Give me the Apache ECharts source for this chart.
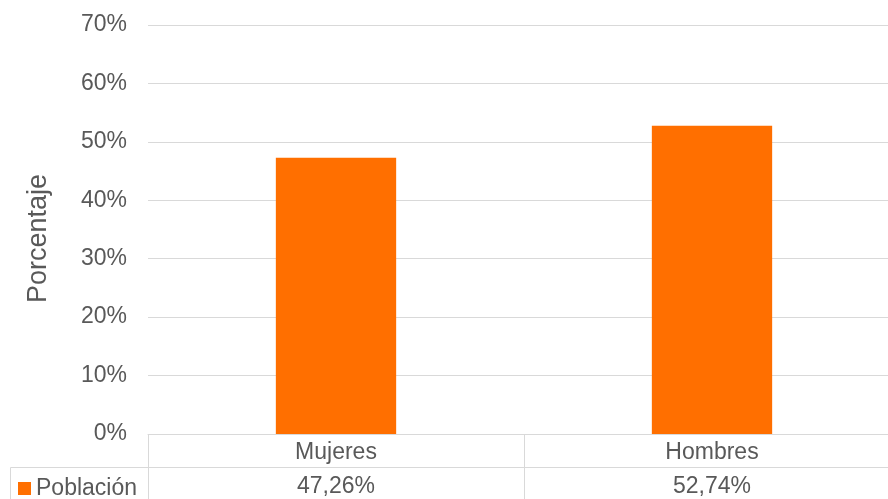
<!DOCTYPE html>
<html>
<head>
<meta charset="utf-8">
<script src="https://cdn.jsdelivr.net/npm/echarts@6/dist/echarts.min.js"></script>
<style>
html,body{margin:0;padding:0;background:#fff;overflow:hidden;}
#wrap{width:888px;height:499px;overflow:hidden;}
#main{width:900px;height:499px;}
</style>
</head>
<body>
<div id="wrap"><div id="main"></div></div>
<script>
var categories = ['Mujeres', 'Hombres'];
var seriesName = 'Población';
var values = [47.26, 52.74];
var yTicks = [0, 10, 20, 30, 40, 50, 60, 70];
var yAxisTitle = 'Porcentaje';

var FONT = '"Liberation Sans", Arial, sans-serif';
var TXT = '#595959';
var LINE = '#d9d9d9';
var ORANGE = '#ff6f00';

function fmtPct(v) { return v.toFixed(2).replace('.', ',') + '%'; }
var valueLabels = values.map(fmtPct);

var chart = echarts.init(document.getElementById('main'));
chart.setOption({
  animation: false,
  textStyle: { fontFamily: FONT },
  legend: {
    data: [seriesName],
    left: 13, top: 472,
    itemWidth: 13, itemHeight: 13,
    icon: 'rect',
    textStyle: { fontFamily: FONT, fontSize: 23, color: TXT }
  },
  grid: { left: 148, right: 0, top: 25, bottom: 65 },
  graphic: [
    { type: 'rect', shape: { x: 10.5, y: 467.5, width: 138, height: 40 },
      style: { fill: 'none', stroke: LINE, lineWidth: 1 }, silent: true }
  ],
  xAxis: [
    {
      type: 'category',
      data: categories,
      axisLine: { lineStyle: { color: LINE, width: 1 } },
      axisTick: { show: true, length: 66, lineStyle: { color: LINE } },
      axisLabel: { color: TXT, fontSize: 23, fontFamily: FONT, margin: 7 },
      splitLine: { show: false }
    },
    {
      type: 'category',
      data: valueLabels,
      position: 'bottom',
      offset: 33,
      axisLine: { show: true, lineStyle: { color: LINE, width: 1 } },
      axisTick: { show: false },
      axisLabel: { color: TXT, fontSize: 23, fontFamily: FONT, margin: 8 }
    }
  ],
  yAxis: {
    type: 'value',
    min: yTicks[0], max: yTicks[yTicks.length - 1], interval: 10,
    name: yAxisTitle,
    nameLocation: 'middle',
    nameGap: 96,
    nameTextStyle: { color: TXT, fontSize: 27, fontFamily: FONT, padding: [0, 18, 0, 0] },
    axisLine: { show: false },
    axisTick: { show: false },
    axisLabel: { color: TXT, fontSize: 23, fontFamily: FONT, margin: 21,
      formatter: function (v) { return v + '%'; } },
    splitLine: { lineStyle: { color: LINE, width: 1 } }
  },
  series: [{
    name: seriesName,
    type: 'bar',
    data: values,
    barWidth: '32%',
    itemStyle: { color: ORANGE }
  }]
});
</script>
</body>
</html>
